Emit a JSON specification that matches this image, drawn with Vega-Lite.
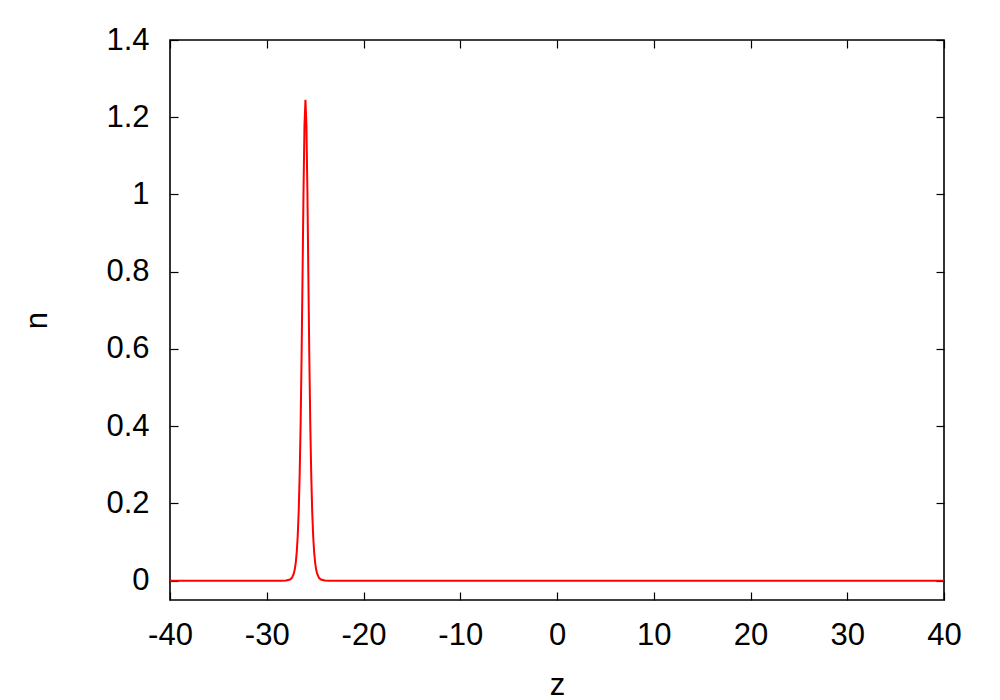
{
  "$schema": "https://vega.github.io/schema/vega-lite/v6.json",
  "autosize": {"type": "none"},
  "padding": {"left": 170, "top": 40, "right": 56, "bottom": 100},
  "width": 774,
  "height": 560,
  "background": "white",
  "data": {"values": [
    {"z": -40, "n": 0},
    {"z": -28.5, "n": 0},
    {"z": -28, "n": 0.0005},
    {"z": -27.6, "n": 0.0029},
    {"z": -27.4, "n": 0.0074},
    {"z": -27.2, "n": 0.019},
    {"z": -27.1, "n": 0.030},
    {"z": -27.0, "n": 0.047},
    {"z": -26.9, "n": 0.074},
    {"z": -26.8, "n": 0.115},
    {"z": -26.7, "n": 0.178},
    {"z": -26.6, "n": 0.272},
    {"z": -26.5, "n": 0.403},
    {"z": -26.4, "n": 0.580},
    {"z": -26.3, "n": 0.792},
    {"z": -26.2, "n": 1.010},
    {"z": -26.1, "n": 1.180},
    {"z": -26.0, "n": 1.245},
    {"z": -25.9, "n": 1.180},
    {"z": -25.8, "n": 1.010},
    {"z": -25.7, "n": 0.792},
    {"z": -25.6, "n": 0.580},
    {"z": -25.5, "n": 0.403},
    {"z": -25.4, "n": 0.272},
    {"z": -25.3, "n": 0.178},
    {"z": -25.2, "n": 0.115},
    {"z": -25.1, "n": 0.074},
    {"z": -25.0, "n": 0.047},
    {"z": -24.9, "n": 0.030},
    {"z": -24.8, "n": 0.019},
    {"z": -24.6, "n": 0.0074},
    {"z": -24.4, "n": 0.0029},
    {"z": -24.0, "n": 0.0005},
    {"z": -23.5, "n": 0},
    {"z": 40, "n": 0}
  ]},
  "config": {
    "view": {"stroke": "black", "strokeWidth": 1.6},
    "font": "Liberation Sans",
    "axis": {
      "domain": false,
      "grid": false,
      "tickColor": "black",
      "tickWidth": 1.2,
      "tickSize": -8,
      "labelFlush": false,
      "labelOverlap": false,
      "labelFont": "Liberation Sans",
      "labelFontSize": 31,
      "labelColor": "black",
      "titleFont": "Liberation Sans",
      "titleFontSize": 31,
      "titleFontWeight": "normal",
      "titleColor": "black"
    }
  },
  "layer": [
    {
      "mark": {"type": "line", "color": "#ff0000", "strokeWidth": 2, "clip": true},
      "encoding": {
        "x": {"field": "z", "type": "quantitative",
              "scale": {"domain": [-40, 40], "nice": false, "zero": false},
              "axis": {"orient": "bottom", "title": "z", "values": [-40,-30,-20,-10,0,10,20,30,40], "labelExpr": "'' + datum.value", "labelPadding": 28, "titlePadding": 20}},
        "y": {"field": "n", "type": "quantitative",
              "scale": {"domain": [-0.05, 1.4], "nice": false, "zero": false},
              "axis": {"orient": "left", "title": "n", "values": [0,0.2,0.4,0.6,0.8,1,1.2,1.4], "labelExpr": "'' + datum.value", "labelPadding": 29, "titlePadding": 52}}
      }
    },
    {
      "mark": {"type": "line", "opacity": 0},
      "encoding": {
        "x": {"field": "z", "type": "quantitative",
              "axis": {"orient": "top", "title": null, "labels": false, "values": [-40,-30,-20,-10,0,10,20,30,40]}},
        "y": {"field": "n", "type": "quantitative",
              "axis": {"orient": "right", "title": null, "labels": false, "values": [0,0.2,0.4,0.6,0.8,1,1.2,1.4]}}
      }
    }
  ],
  "resolve": {"axis": {"x": "independent", "y": "independent"}}
}
